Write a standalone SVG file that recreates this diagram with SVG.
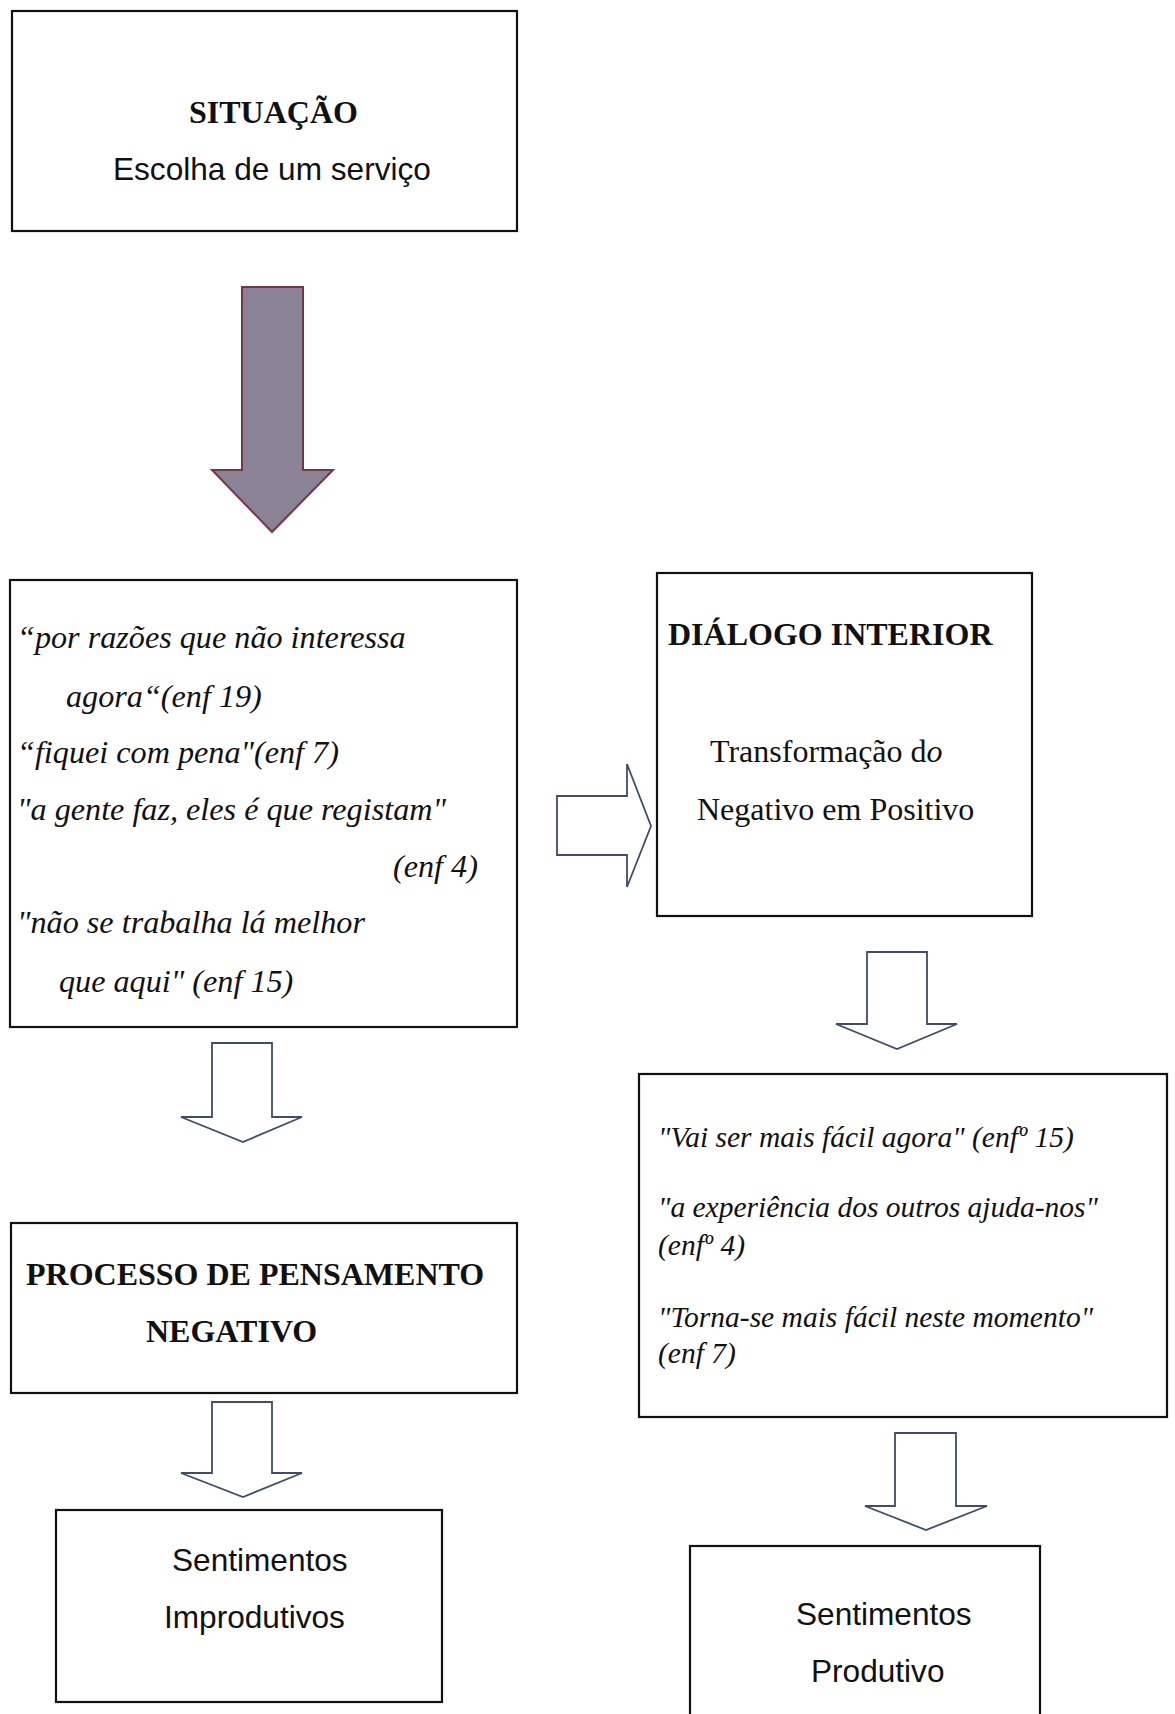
<svg xmlns="http://www.w3.org/2000/svg" width="1175" height="1714" viewBox="0 0 1175 1714">
<style>
.box{fill:#fff;stroke:#111;stroke-width:2.2}
.hollow{fill:#fff;stroke:#3f4d6a;stroke-width:1.8;stroke-linejoin:miter}
.tb{font-family:"Liberation Serif","Times New Roman",serif;font-weight:bold;font-size:32px;fill:#111}
.tr{font-family:"Liberation Serif","Times New Roman",serif;font-size:32px;fill:#111}
.ti{font-family:"Liberation Serif","Times New Roman",serif;font-style:italic;font-size:32.2px;fill:#111}
.ti2{font-family:"Liberation Serif","Times New Roman",serif;font-style:italic;font-size:29.5px;fill:#111}
.sa{font-family:"Liberation Sans",Arial,sans-serif;font-size:31.6px;fill:#111}
</style>
<rect width="1175" height="1714" fill="#fff"/>
<g id="connectors">
<path id="arrow-main" d="M242,287 L303,287 L303,470 L333,470 L272,532 L212,470 L242,470 Z" fill="#8a8296" stroke="#7a3444" stroke-width="2"/>
<path id="arrow-right" class="hollow" d="M557,796 L627,796 L627,764 L651,826 L627,887 L627,855 L557,855 Z"/>
<path id="arrow-dialog-down" class="hollow" d="M867,952 L927,952 L927,1024 L957,1024 L897,1049 L836,1024 L867,1024 Z"/>
<path id="arrow-left-1" class="hollow" d="M212,1043 L272,1043 L272,1117 L302,1117 L243,1142 L181,1117 L212,1117 Z"/>
<path id="arrow-left-2" class="hollow" d="M212,1402 L272,1402 L272,1473 L302,1473 L243,1497 L181,1473 L212,1473 Z"/>
<path id="arrow-right-2" class="hollow" d="M895,1433 L956,1433 L956,1506 L987,1506 L926,1530 L865,1506 L895,1506 Z"/>
</g>
<g id="situacao">
<rect class="box" x="12" y="11" width="505" height="220"/>
<text class="tb" x="189" y="123" font-size="31.7">SITUAÇÃO</text>
<text class="sa" x="113" y="180" font-size="31.5">Escolha de um serviço</text>
</g>
<g id="citacoes-negativas">
<rect class="box" x="10" y="580" width="507" height="447"/>
<text class="ti" x="17" y="648">“por razões que não interessa</text>
<text class="ti" x="66" y="707">agora“(enf 19)</text>
<text class="ti" x="17" y="763">“fiquei com pena"(enf 7)</text>
<text class="ti" x="17" y="820">"a gente faz, eles é que registam"</text>
<text class="ti" x="393" y="877">(enf 4)</text>
<text class="ti" x="17" y="933">"não se trabalha lá melhor</text>
<text class="ti" x="59" y="992">que aqui" (enf 15)</text>
</g>
<g id="dialogo">
<rect class="box" x="657" y="573" width="375" height="343"/>
<text class="tb" x="668" y="645">DIÁLOGO INTERIOR</text>
<text class="tr" x="710" y="762">Transformação d<tspan font-style="italic">o</tspan></text>
<text class="tr" x="697" y="820">Negativo em Positivo</text>
</g>
<g id="citacoes-positivas">
<rect class="box" x="639" y="1074" width="528" height="343"/>
<text class="ti2" x="658" y="1147">"Vai ser mais fácil agora" (enfº 15)</text>
<text class="ti2" x="658" y="1217">"a experiência dos outros ajuda-nos"</text>
<text class="ti2" x="658" y="1255">(enfº 4)</text>
<text class="ti2" x="658" y="1327">"Torna-se mais fácil neste momento"</text>
<text class="ti2" x="658" y="1363">(enf 7)</text>
</g>
<g id="processo-negativo">
<rect class="box" x="11" y="1223" width="506" height="170"/>
<text class="tb" x="26" y="1285" font-size="31.8">PROCESSO DE PENSAMENTO</text>
<text class="tb" x="146" y="1342" font-size="31.8">NEGATIVO</text>
</g>
<g id="sentimentos-improdutivos">
<rect class="box" x="56" y="1510" width="386" height="192"/>
<text class="sa" x="172" y="1571">Sentimentos</text>
<text class="sa" x="164" y="1628">Improdutivos</text>
</g>
<g id="sentimentos-produtivo">
<rect class="box" x="690" y="1546" width="350" height="200"/>
<text class="sa" x="796" y="1625">Sentimentos</text>
<text class="sa" x="811" y="1682">Produtivo</text>
</g>
</svg>
